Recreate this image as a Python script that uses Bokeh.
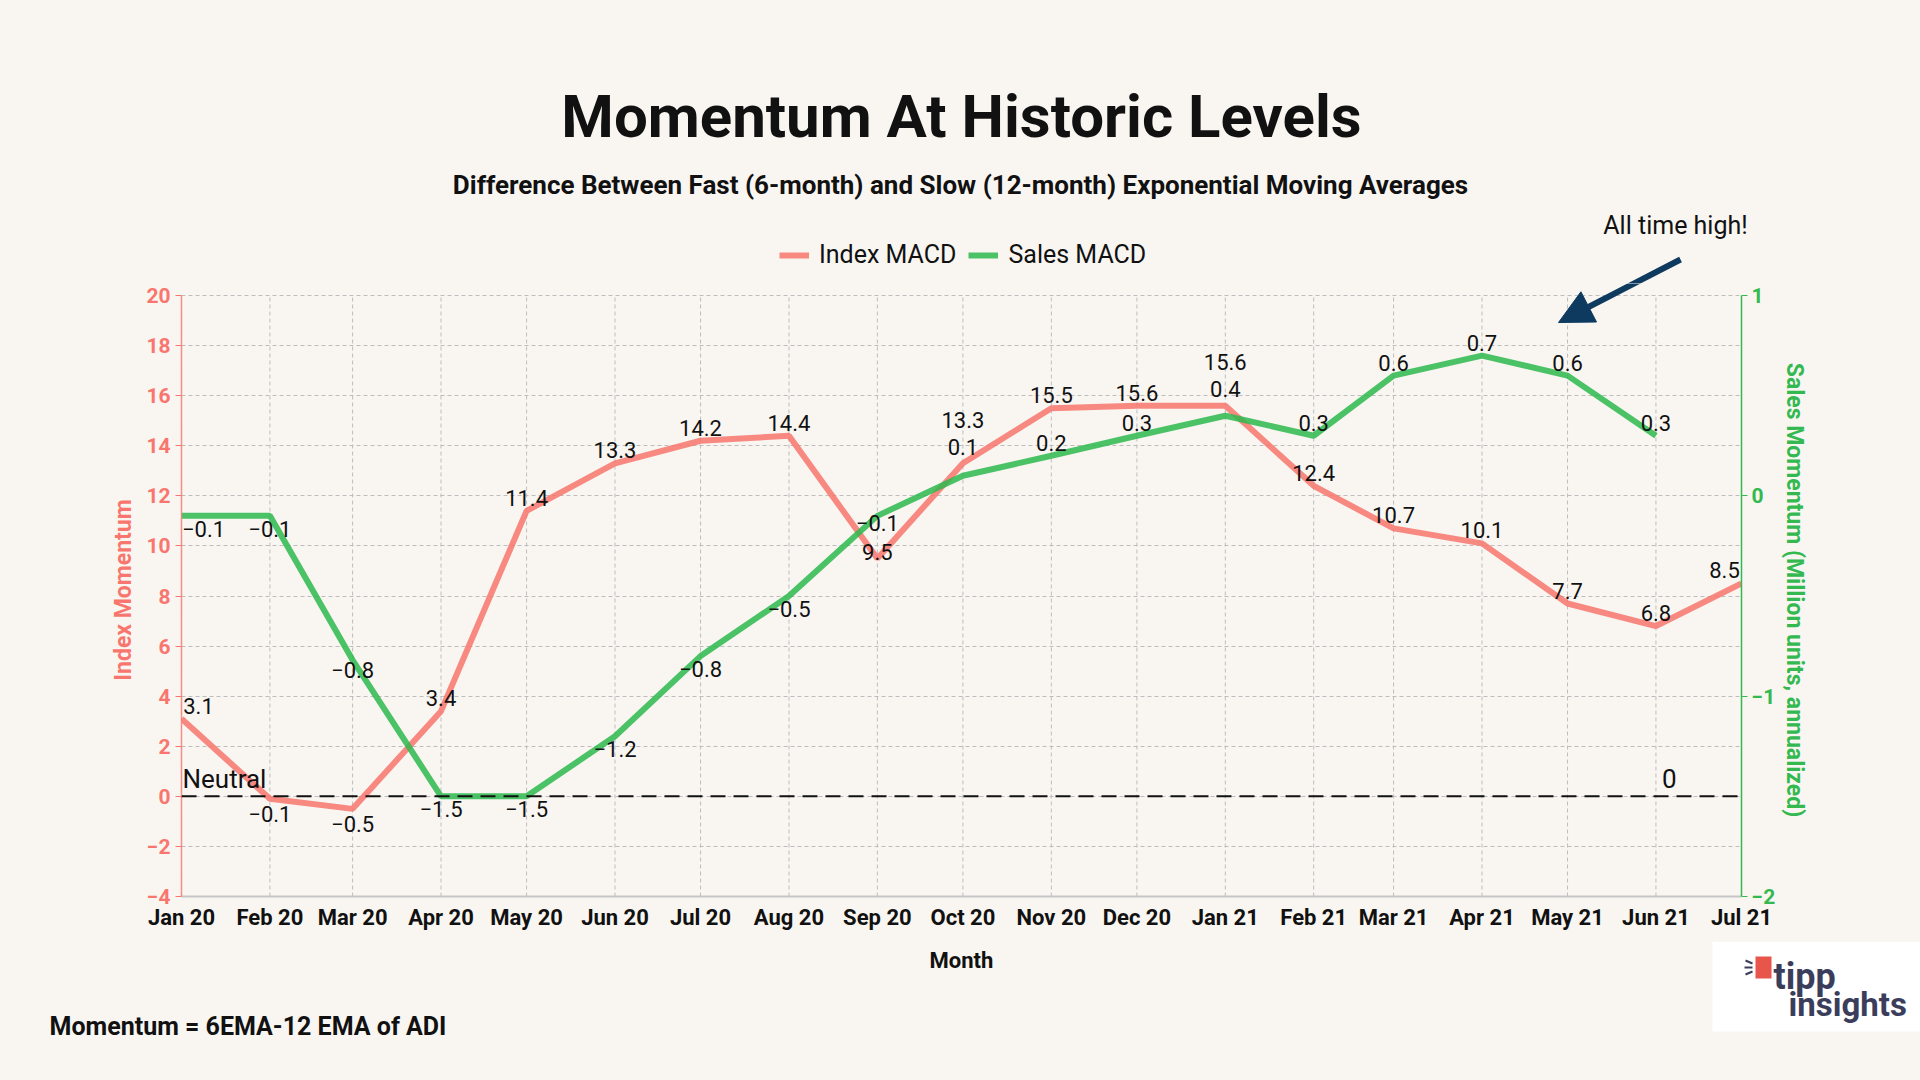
import pandas as pd
from bokeh.plotting import figure
from bokeh.layouts import column
from bokeh.models import (ColumnDataSource, Range1d, LinearAxis, FixedTicker, Span, Label,
                          LabelSet, Legend, LegendItem, Arrow, NormalHead, BoxAnnotation)
from bokeh.embed import file_html
from bokeh.resources import INLINE
from bokeh.core.properties import value

# ---------------- data ----------------
months = ["Jan 20", "Feb 20", "Mar 20", "Apr 20", "May 20", "Jun 20", "Jul 20", "Aug 20",
          "Sep 20", "Oct 20", "Nov 20", "Dec 20", "Jan 21", "Feb 21", "Mar 21", "Apr 21",
          "May 21", "Jun 21", "Jul 21"]
index_macd = [3.1, -0.1, -0.5, 3.4, 11.4, 13.3, 14.2, 14.4, 9.5, 13.3, 15.5, 15.6, 15.6,
              12.4, 10.7, 10.1, 7.7, 6.8, 8.5]
sales_months = months[:18]
sales_macd = [-0.1, -0.1, -0.82, -1.5, -1.5, -1.2, -0.8, -0.5, -0.1, 0.1, 0.2, 0.3, 0.4,
              0.3, 0.6, 0.7, 0.6, 0.3]
left_ticks = [-4, -2, 0, 2, 4, 6, 8, 10, 12, 14, 16, 18, 20]
right_ticks = [-2, -1, 0, 1]

# ---------------- style ----------------
BG = "#f9f6f2"
RED = "#F8766D"
GREEN = "#2DB84D"
GREEN_AX = "#33b950"
NAVY = "#0d3a5e"
INK = "#111111"
LOGO = "#3b3e5b"
FONT = "Roboto"
W = 1920
HEAD_H, MAIN_H, FOOT_H = 283, 658, 139
PLOT_PX = 601          # pixel height of the -4..20 data span
TOP_PAD = 12           # px of frame above the top tick

dates = pd.to_datetime(months, format="%b %y")
ms = [int(d.value // 10**6) for d in dates]
ms_sales = ms[:len(sales_macd)]


def fmt(v):
    return f"{v:.1f}".replace("-", "\u2212")


# label offsets (screen px, positive = up / right); nudges avoid collisions and edges
idx_nudge = {"Sep 20": -7, "Oct 20": 30, "Jan 21": 31}
sal_nudge = {"Mar 20": 3, "Sep 20": 6, "Oct 20": 16, "Jan 21": 14}
idx_xn = {"Jan 20": 17, "Jul 21": -17}
sal_xn = {"Jan 20": 22}
idx_off = [(13 if v >= 0 else -15) + idx_nudge.get(m, 0) for m, v in zip(months, index_macd)]
sal_off = [(13 if v >= 0 else -13) + sal_nudge.get(m, 0) for m, v in zip(sales_months, sales_macd)]

src_i = ColumnDataSource(dict(x=ms, y=index_macd, text=[fmt(v) for v in index_macd],
                              off=idx_off, xoff=[idx_xn.get(m, 0) for m in months]))
src_s = ColumnDataSource(dict(x=ms_sales, y=sales_macd, text=[fmt(v) for v in sales_macd],
                              off=sal_off, xoff=[sal_xn.get(m, 0) for m in sales_months]))


def slabel(x, y, text, size, style="normal", align="center", baseline="middle", color=INK):
    return Label(x=x, y=y, x_units="screen", y_units="screen", text=text, text_align=align,
                 text_baseline=baseline, text_font=FONT, text_font_size=size,
                 text_font_style=style, text_color=color)


def blank(height):
    f = figure(width=W, height=height, x_range=Range1d(0, W), y_range=Range1d(0, height),
               output_backend="svg", toolbar_location=None, title=None,
               x_axis_location=None, y_axis_location=None, min_border=0,
               background_fill_color=BG, border_fill_color=BG, frame_align=False)
    f.outline_line_color = None
    f.grid.visible = False
    return f


# ================= header =================
head = blank(HEAD_H)
head.add_layout(slabel(961, 167, "Momentum At Historic Levels", "60px", "bold"))
head.add_layout(slabel(960, 99, "Difference Between Fast (6-month) and Slow (12-month) "
                                "Exponential Moving Averages", "26px", "bold"))
head.add_layout(slabel(1675, 58, "All time high!", "25px"))
nan2 = [float("nan")] * 2
h_idx = head.line(x=nan2, y=nan2, line_color=RED, line_alpha=0.85, line_width=6)
h_sal = head.line(x=nan2, y=nan2, line_color=GREEN, line_alpha=0.85, line_width=6)
legend = Legend(items=[LegendItem(label="Index MACD", renderers=[h_idx]),
                       LegendItem(label="Sales MACD", renderers=[h_sal])],
                orientation="horizontal", location=(779, 14), glyph_width=30,
                glyph_height=22, label_standoff=10, spacing=12, padding=0, margin=0,
                border_line_color=None, background_fill_alpha=0,
                label_text_font=FONT, label_text_font_size="25px", label_text_color=INK)
head.add_layout(legend, "center")
head.add_layout(Arrow(end=None, x_start=1680, y_start=24, x_end=1558, y_end=-39,
                      start_units="screen", end_units="screen",
                      line_color=NAVY, line_width=6))

# ================= main chart =================
px_unit = PLOT_PX / (left_ticks[-1] - left_ticks[0])
y_top = left_ticks[-1] + TOP_PAD / px_unit
r_px_unit = PLOT_PX / (right_ticks[-1] - right_ticks[0])
r_top = right_ticks[-1] + TOP_PAD / r_px_unit

p = figure(width=W, height=MAIN_H, x_range=Range1d(ms[0], ms[-1]),
           y_range=Range1d(left_ticks[0], y_top), title=None,
           output_backend="svg", toolbar_location=None, frame_align=False,
           background_fill_color=BG, border_fill_color=BG,
           min_border_left=181, min_border_right=179, min_border_top=0, min_border_bottom=45)
p.outline_line_color = None
p.extra_y_ranges = {"sales": Range1d(right_ticks[0], r_top)}

# grids
p.xgrid.visible = False
p.ygrid[0].ticker = FixedTicker(ticks=left_ticks)
p.ygrid[0].grid_line_color = "#bdbdbd"
p.ygrid[0].grid_line_dash = "4 3"
p.ygrid[0].grid_line_width = 1
p.segment(x0=ms, y0=[left_ticks[0]] * len(ms), x1=ms, y1=[left_ticks[-1]] * len(ms),
          line_color="#bdbdbd", line_dash="4 3", line_width=1)

# x axis
xa = p.xaxis[0]
xa.ticker = FixedTicker(ticks=ms)
xa.major_label_overrides = {m: lab for m, lab in zip(ms, months)}
xa.axis_line_color = "#c6c6c6"
xa.axis_line_width = 2
xa.major_tick_line_color = None
xa.major_tick_out = 0
xa.major_tick_in = 0
xa.minor_tick_line_color = None
xa.major_label_standoff = 8
xa.major_label_text_font = FONT
xa.major_label_text_font_size = "22px"
xa.major_label_text_font_style = "bold"
xa.major_label_text_color = INK

# left axis
ya = p.yaxis[0]
ya.bounds = (left_ticks[0], left_ticks[-1])
ya.ticker = FixedTicker(ticks=left_ticks)
ya.major_label_overrides = {t: str(t).replace("-", "\u2212") for t in left_ticks if t < 0}
ya.axis_line_color = RED
ya.axis_line_alpha = 0.8
ya.axis_line_width = 1.5
ya.major_tick_line_color = RED
ya.major_tick_out = 6
ya.major_tick_in = 0
ya.minor_tick_line_color = None
ya.major_label_standoff = 5
ya.major_label_text_font = FONT
ya.major_label_text_font_size = "21px"
ya.major_label_text_font_style = "bold"
ya.major_label_text_color = RED
ya.axis_label = "Index Momentum"
ya.axis_label_text_font = FONT
ya.axis_label_text_font_size = "23px"
ya.axis_label_text_font_style = "bold"
ya.axis_label_text_color = RED
ya.axis_label_standoff = 6

# right axis
ra = LinearAxis(y_range_name="sales", ticker=FixedTicker(ticks=right_ticks),
                bounds=(right_ticks[0], right_ticks[-1]))
ra.major_label_overrides = {t: str(t).replace("-", "\u2212") for t in right_ticks if t < 0}
ra.axis_line_color = GREEN_AX
ra.axis_line_width = 1.5
ra.major_tick_line_color = GREEN_AX
ra.major_tick_out = 6
ra.major_tick_in = 0
ra.minor_tick_line_color = None
ra.major_label_standoff = 4
ra.major_label_text_font = FONT
ra.major_label_text_font_size = "21px"
ra.major_label_text_font_style = "bold"
ra.major_label_text_color = GREEN_AX
ra.axis_label = "Sales Momentum (Million units, annualized)"
ra.axis_label_text_font = FONT
ra.axis_label_text_font_size = "23px"
ra.axis_label_text_font_style = "bold"
ra.axis_label_text_color = GREEN_AX
ra.axis_label_standoff = 3
p.add_layout(ra, "right")

# neutral line
p.add_layout(Span(location=0, dimension="width", line_color="#111111", line_width=2,
                  line_dash="15 8"))

# series
r_idx = p.line("x", "y", source=src_i, line_color=RED, line_alpha=0.85, line_width=6)
r_sal = p.line("x", "y", source=src_s, y_range_name="sales", line_color=GREEN,
               line_alpha=0.85, line_width=6)

# data labels
for src, rng in ((src_i, "default"), (src_s, "sales")):
    p.add_layout(LabelSet(x="x", y="y", text="text", y_offset="off", x_offset="xoff",
                          source=src, y_range_name=rng, text_align="center",
                          text_baseline="middle", text_font=value(FONT),
                          text_font_size="22px", text_color=INK))

# neutral texts
p.add_layout(Label(x=ms[0], y=0, x_offset=1, y_offset=17, text="Neutral", text_align="left",
                   text_baseline="middle", text_font=FONT, text_font_size="26px",
                   text_color=INK))
p.add_layout(Label(x=ms[17], y=0, x_offset=6, y_offset=18, text="0", text_align="left",
                   text_baseline="middle", text_font=FONT, text_font_size="26px",
                   text_color=INK))

# arrow (continues the header's segment)
p.add_layout(Arrow(end=NormalHead(size=34, fill_color=NAVY, line_color=NAVY),
                   x_start=1499, y_start=637, x_end=1377, y_end=574,
                   start_units="screen", end_units="screen",
                   line_color=NAVY, line_width=6))

# ================= footer =================
foot = blank(FOOT_H)
foot.add_layout(slabel(961, 120, "Month", "22px", "bold"))
foot.add_layout(slabel(49, 54, "Momentum = 6EMA-12 EMA of ADI", "25px", "bold", align="left"))
foot.add_layout(BoxAnnotation(left=1712, right=1920, top=139, bottom=49,
                              left_units="screen", right_units="screen",
                              top_units="screen", bottom_units="screen",
                              fill_color="white", fill_alpha=1, line_color=None))
foot.add_layout(BoxAnnotation(left=1755, right=1771, top=124, bottom=102,
                              left_units="screen", right_units="screen",
                              top_units="screen", bottom_units="screen",
                              fill_color="#e8564b", fill_alpha=1, line_color=None))
for (x0, y0, x1, y1) in ((1745, 120, 1752, 117), (1744, 113, 1752, 113), (1745, 106, 1752, 109)):
    foot.add_layout(Arrow(end=None, x_start=x0, y_start=y0, x_end=x1, y_end=y1,
                          start_units="screen", end_units="screen",
                          line_color=LOGO, line_width=2))
foot.add_layout(slabel(1773, 104, "tipp", "36px", "bold", align="left", baseline="alphabetic",
                       color=LOGO))
foot.add_layout(slabel(1788, 76, "insights", "33px", "bold", align="left",
                       baseline="alphabetic", color=LOGO))

layout = column(head, p, foot, spacing=0)

template = "{% block preamble %}<style>html, body { background: " + BG + "; }</style>{% endblock %}"
open("out.html", "w").write(file_html(layout, INLINE, template=template))
